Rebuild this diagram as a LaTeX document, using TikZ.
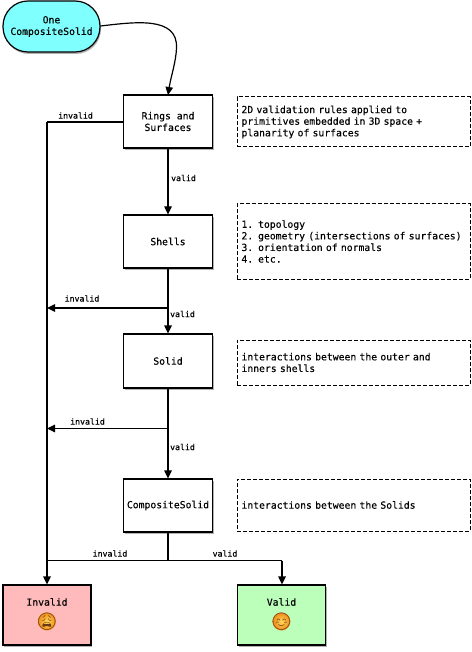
\documentclass[tikz,border=0pt]{standalone}
\usepackage{fontspec}
\setmonofont[FakeBold=0.25]{DejaVu Sans Mono}
\newfontfamily\emojifont{Noto Emoji}
\usetikzlibrary{arrows.meta,shadows,positioning,calc}
\definecolor{startfill}{HTML}{80FFFF}
\definecolor{badfill}{HTML}{FFBBBB}
\definecolor{goodfill}{HTML}{BBFFBB}
\definecolor{emolight}{HTML}{FFD95A}
\definecolor{emodark}{HTML}{EE8A1C}
\definecolor{emoline}{HTML}{6B3A10}
\tikzset{
  x=1pt,y=-1pt,
  txt/.style={font=\ttfamily\fontsize{9.75}{11.6}\selectfont,align=center,text=black},
  flowbox/.style={draw=black,line width=1.2pt,fill=white,minimum width=89pt,minimum height=53pt,inner sep=0pt,txt,
    drop shadow={shadow xshift=1pt,shadow yshift=-2pt,fill=black,opacity=0.3}},
  endbox/.style={flowbox,minimum width=88pt,minimum height=60pt},
  startbox/.style={flowbox,rounded corners=25pt,fill=startfill,minimum width=97pt,minimum height=51pt},
  notebox/.style={draw=black,line width=1pt,dash pattern=on 3.6pt off 2.4pt,minimum width=233pt,inner ysep=1pt,inner xsep=4.5pt,
    txt,align=left,text width=224pt},
  lab/.style={font=\ttfamily\fontsize{8.2}{9}\selectfont,inner sep=0pt,text=black},
  conn/.style={draw=black,line width=1.2pt},
  arr/.style={conn,-{Triangle[length=8pt,width=7.5pt]}},
  emo/.style={font=\emojifont\fontsize{17}{17}\selectfont,inner sep=0pt,text=emoline},
  disc/.style={inner color=emolight,outer color=emodark},
}
\begin{document}
\begin{tikzpicture}
\useasboundingbox (0,0) rectangle (471,652);
\node[startbox] (start) at (51.5,26.5) {One\\CompositeSolid};
\node[flowbox] (rings) at (168,121.5) {Rings and\\Surfaces};
\node[flowbox] (shells) at (168,241.5) {Shells};
\node[flowbox,minimum height=54pt] (solid) at (168,361) {Solid};
\node[flowbox] (comp) at (168,505.5) {CompositeSolid};
\node[endbox,fill=badfill] (invalid) at (47,615) {};
\node[endbox,fill=goodfill] (valid) at (281.5,615) {};
\node[txt,inner sep=0pt] (invtxt) at (47,602) {Invalid};
\node[txt,inner sep=0pt] (valtxt) at (281.5,602) {Valid};
\shade[disc] (47,621.5) circle (9pt);
\shade[disc] (281.5,621.5) circle (9pt);
\node[emo] (invemo) at (47,621.5) {^^^^^^01f629};
\node[emo] (valemo) at (281.5,621.5) {^^^^^^01f60a};

\node[notebox,minimum height=50pt] (n1) at (353.5,122) {2D validation rules applied to\\primitives embedded in 3D space +\\planarity of surfaces};
\node[notebox,minimum height=75pt] (n2) at (353.5,241.5) {1. topology\\2. geometry (intersections of surfaces)\\3. orientation of normals\\4. etc.};
\node[notebox,minimum height=45pt] (n3) at (353.5,362.5) {interactions between the outer and\\inners shells};
\node[notebox,minimum height=52pt] (n4) at (353.5,505) {interactions between the Solids};

\coordinate (c1) at (47,122);
\coordinate (j1) at (168,308);
\coordinate (e1) at (47,308);
\coordinate (j2) at (168,428.5);
\coordinate (e2) at (47,428.5);
\coordinate (j3) at (168,560.5);
\coordinate (c2) at (47,560.5);
\coordinate (c3) at (282,560.5);

\draw[arr] (start.east) ++(0,-0.5) .. controls (135,22) and (178,16) .. (176.5,48) .. controls (176,62) and (171,76) .. (168,95);
\draw[arr] (rings.south) -- (shells.north);
\draw[conn] (rings.west |- c1) -- (c1);
\draw[arr] (c1) -- (invalid.north -| c1);
\draw[conn] (shells.south) -- (j1);
\draw[arr] (j1) -- (solid.north);
\draw[arr] (j1) -- (e1);
\draw[conn] (solid.south) -- (j2);
\draw[arr] (j2) -- (comp.north);
\draw[arr] (j2) -- (e2);
\draw[conn] (comp.south) -- (j3);
\draw[conn] (j3) -- (c2);
\draw[conn] (j3) -- (c3);
\draw[arr] (c3) -- (valid.north -| c3);

\node[lab] (l1) at (75.5,115.5) {invalid};
\node[lab] (l2) at (183.5,178) {valid};
\node[lab] (l3) at (82,298.5) {invalid};
\node[lab] (l4) at (182.5,314) {valid};
\node[lab] (l5) at (87.5,421.5) {invalid};
\node[lab] (l6) at (182.5,447) {valid};
\node[lab] (l7) at (110,553.5) {invalid};
\node[lab] (l8) at (225,553.5) {valid};
\end{tikzpicture}
\end{document}
